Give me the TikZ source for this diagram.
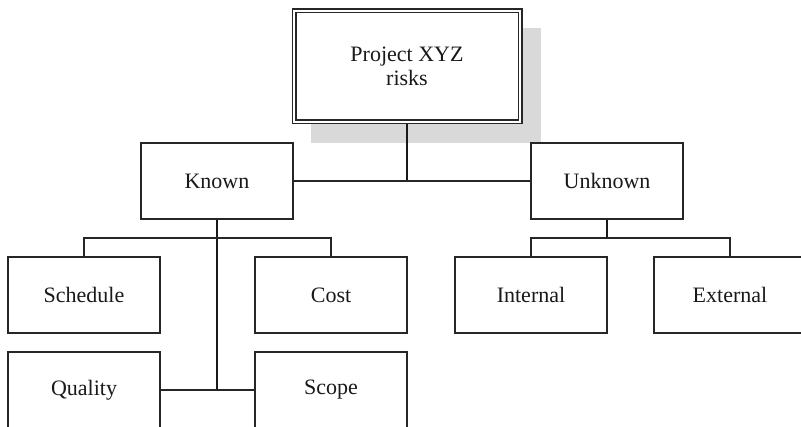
\documentclass[tikz,border=0pt]{standalone}
\usepackage{fontspec}
\setmainfont{Liberation Serif}
\usetikzlibrary{backgrounds}
\begin{document}
\begin{tikzpicture}[x=1pt,y=-1pt,
  box/.style={draw=black!85,line width=1.2pt,fill=white,minimum width=152pt,minimum height=76pt,
    inner sep=0pt,font=\fontsize{22}{24}\selectfont,text=black!90},
  rootbox/.style={box,double,double distance=2.6pt,minimum width=226pt,minimum height=111pt,align=center},
  link/.style={draw=black!85,line width=1.2pt},
  trunk/.style={draw=black!90,line width=1.8pt}]
\useasboundingbox (0,0) rectangle (801,427);
\clip (0,0) rectangle (801,427);

% root and categories
\node[rootbox] (root) at (407,66.5) {Project XYZ\\risks};
\node[box] (known) at (217,181) {Known};
\node[box] (unknown) at (607,181) {Unknown};

% known risks
\node[box] (schedule) at (84,295) {Schedule};
\node[box] (cost) at (331,295) {Cost};
\node[box] (quality) at (84,390) {Quality};
\node[box] (scope) at (331,390) {Scope};

% unknown risks
\node[box] (internal) at (531,295) {Internal};
\node[box] (external) at (730,295) {External};

\coordinate (kb) at (217,238);
\coordinate (ub) at (607,238);

\begin{pgfonlayer}{background}
  % drop shadow of the root box
  \fill[black!15] (311,28) rectangle (541,143);
  % connectors
  \path[trunk] (root.south) -- (root.south |- known.east);
  \path[link] (known.east) -- (unknown.west);
  \path[trunk] (known.south) -- (known.south |- quality.east);
  \path[link] (schedule.north) |- (kb) -| (cost.north);
  \path[link] (quality.east) -- (scope.west);
  \path[trunk] (unknown.south) -- (ub);
  \path[link] (internal.north) |- (ub) -| (external.north);
\end{pgfonlayer}
\end{tikzpicture}
\end{document}
